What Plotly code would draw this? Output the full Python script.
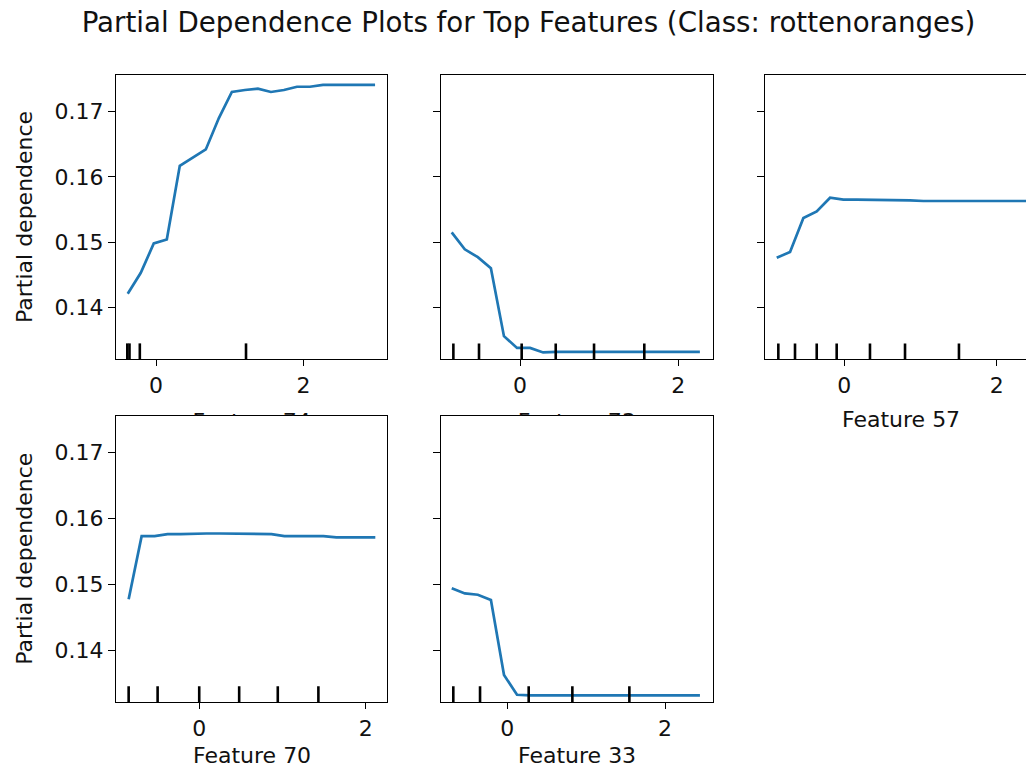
import plotly.graph_objects as go

# ---- partial dependence curves (grid values and averaged predictions) ----
f74_grid = [-0.384, -0.207, -0.031, 0.146, 0.322, 0.499, 0.675, 0.852, 1.028, 1.205,
            1.381, 1.558, 1.734, 1.911, 2.087, 2.264, 2.440, 2.617, 2.793, 2.970]
f74_pd = [0.1421, 0.1453, 0.1498, 0.1504, 0.1617, 0.1629, 0.1642, 0.1690, 0.1730, 0.1733,
          0.1735, 0.1730, 0.1733, 0.1738, 0.1738, 0.1741, 0.1741, 0.1741, 0.1741, 0.1741]
f74_deciles = [-0.39, -0.36, -0.22, 1.22]

f73_grid = [-0.863, -0.698, -0.533, -0.368, -0.203, -0.038, 0.127, 0.292, 0.457, 0.622,
            0.787, 0.952, 1.117, 1.282, 1.447, 1.612, 1.777, 1.942, 2.107, 2.272]
f73_pd = [0.1515, 0.1489, 0.1477, 0.1460, 0.1356, 0.1338, 0.1338, 0.1331, 0.1332, 0.1332,
          0.1332, 0.1332, 0.1332, 0.1332, 0.1332, 0.1332, 0.1332, 0.1332, 0.1332, 0.1332]
f73_deciles = [-0.842, -0.518, 0.021, 0.451, 0.935, 1.57]

f57_grid = [-0.887, -0.712, -0.537, -0.362, -0.187, -0.012, 0.163, 0.338, 0.513, 0.688,
            0.863, 1.038, 1.213, 1.388, 1.563, 1.738, 1.913, 2.088, 2.263, 2.438]
f57_pd = [0.1476, 0.1485, 0.1537, 0.1547, 0.1568, 0.1565, 0.1565, 0.1565, 0.1565, 0.1564,
          0.1564, 0.1563, 0.1563, 0.1563, 0.1563, 0.1563, 0.1563, 0.1563, 0.1563, 0.1563]
f57_deciles = [-0.866, -0.647, -0.362, -0.1, 0.337, 0.797, 1.505]

f70_grid = [-0.848, -0.692, -0.536, -0.380, -0.224, -0.068, 0.088, 0.244, 0.400, 0.556,
            0.712, 0.868, 1.024, 1.180, 1.336, 1.492, 1.648, 1.804, 1.960, 2.116]
f70_pd = [0.1477, 0.1573, 0.1573, 0.1576, 0.1576, 0.1577, 0.1577, 0.1577, 0.1577, 0.1577,
          0.1577, 0.1576, 0.1573, 0.1573, 0.1573, 0.1573, 0.1571, 0.1571, 0.1571, 0.1571]
f70_deciles = [-0.848, -0.5, 0.0, 0.48, 0.944, 1.432]

f33_grid = [-0.705, -0.539, -0.374, -0.208, -0.042, 0.123, 0.289, 0.455, 0.621, 0.786,
            0.952, 1.118, 1.283, 1.449, 1.615, 1.780, 1.946, 2.112, 2.277, 2.443]
f33_pd = [0.1494, 0.1486, 0.1484, 0.1476, 0.1362, 0.1332, 0.1331, 0.1331, 0.1331, 0.1331,
          0.1331, 0.1331, 0.1331, 0.1331, 0.1331, 0.1331, 0.1331, 0.1331, 0.1331, 0.1331]
f33_deciles = [-0.685, -0.346, 0.271, 0.825, 1.548]

feature_names = ["Feature 74", "Feature 73", "Feature 57", "Feature 70", "Feature 33"]
y_tick_vals = [0.14, 0.15, 0.16, 0.17]
y_tick_text = ["0.14", "0.15", "0.16", "0.17"]
x_tick_vals = [0, 2]
x_tick_text = ["0", "2"]
title_text = "Partial Dependence Plots for Top Features (Class: rottenoranges)"

curves = [
    (f74_grid, f74_pd, f74_deciles),
    (f73_grid, f73_pd, f73_deciles),
    (f57_grid, f57_pd, f57_deciles),
    (f70_grid, f70_pd, f70_deciles),
    (f33_grid, f33_pd, f33_deciles),
]

# ---- page geometry (pixels) ----
W, H = 1026, 770
FONT = "DejaVu Sans"
INK = "#111111"
BLUE = "#1f77b4"
FS = 22


def px_x(v):
    return v / W


def px_y(v):
    return 1 - v / H


def ax_id(n):
    return "" if n == 1 else str(n)


col_px = [(116.0, 387.3), (440.7, 712.7), (765.3, 1026.0)]
row_px = [(75.0, 359.0), (415.7, 702.0)]
label_gap = [60, 53]          # distance from panel bottom to x-label centre, per row
x_ranges = [[-0.543, 3.136], [-1.002, 2.434], [-1.037, 2.385],
            [-1.0, 2.26], [-0.845, 2.605]]
y_range = [0.1321, 0.1756]
slots = [(0, 0), (0, 1), (0, 2), (1, 0), (1, 1)]

fig = go.Figure()
layout = {}
shapes = []
annotations = []

for i, ((grid, pd_vals, dec), (r, c)) in enumerate(zip(curves, slots)):
    n = i + 1
    s = ax_id(n)
    xa, ya = f"x{s}", f"y{s}"
    fig.add_trace(go.Scatter(x=grid, y=pd_vals, mode="lines", xaxis=xa, yaxis=ya,
                             line=dict(color=BLUE, width=2.7), hoverinfo="skip"))
    x0, x1 = col_px[c]
    y0, y1 = row_px[r]
    layout[f"xaxis{s}"] = dict(
        domain=[px_x(x0), px_x(x1)], range=x_ranges[i], anchor=ya,
        showgrid=False, zeroline=False, showline=True, linecolor="black",
        linewidth=1.3, mirror=True, ticks="outside", ticklen=6, tickwidth=1.3,
        tickcolor="black", tickvals=x_tick_vals, ticktext=x_tick_text,
        tickfont=dict(family=FONT, size=FS, color=INK),
    )
    layout[f"yaxis{s}"] = dict(
        domain=[px_y(y1), px_y(y0)], range=y_range, anchor=xa,
        showgrid=False, zeroline=False, showline=True, linecolor="black",
        linewidth=1.3, mirror=(c != 2), ticks="outside", ticklen=7, tickwidth=1.3,
        tickcolor="black", tickvals=y_tick_vals, ticktext=y_tick_text,
        showticklabels=(c == 0),
        tickfont=dict(family=FONT, size=FS, color=INK),
    )
    # decile rug along the bottom of each panel
    for d in dec:
        shapes.append(dict(type="line", xref=xa, yref=f"{ya} domain",
                           x0=d, x1=d, y0=0, y1=0.055,
                           line=dict(color="black", width=2.6)))
    # axis labels
    if r == 1 or c == 2:
        annotations.append(dict(text=feature_names[i], xref="paper", yref="paper",
                                x=px_x((x0 + x1) / 2) if c != 2 else px_x(x0 + 135.8),
                                y=px_y(y1 + label_gap[r]), xanchor="center",
                                yanchor="middle", showarrow=False,
                                font=dict(family=FONT, size=FS, color=INK)))
    if c == 0:
        annotations.append(dict(text="Partial dependence", xref="paper", yref="paper",
                                x=px_x(25), y=px_y((y0 + y1) / 2), textangle=-90,
                                xanchor="center", yanchor="middle", showarrow=False,
                                font=dict(family=FONT, size=FS, color=INK)))

# labels of the top-row panels that sit under the lower panels (clipped strip)
for k, c in enumerate([0, 1]):
    n = 6 + k
    x0, x1 = col_px[c]
    fig.add_trace(go.Scatter(x=[0.5], y=[0], mode="text", text=[feature_names[c]],
                             textposition="middle center", cliponaxis=True,
                             xaxis=f"x{n}", yaxis=f"y{n}", hoverinfo="skip",
                             textfont=dict(family=FONT, size=FS, color=INK)))
    layout[f"xaxis{n}"] = dict(domain=[px_x(x0), px_x(x1)], range=[0, 1],
                               anchor=f"y{n}", visible=False)
    layout[f"yaxis{n}"] = dict(domain=[px_y(row_px[1][0]), px_y(row_px[0][1])],
                               range=[0.114, 1], anchor=f"x{n}", visible=False)

fig.update_layout(
    width=W, height=H, margin=dict(l=0, r=0, t=0, b=0),
    paper_bgcolor="white", plot_bgcolor="white", showlegend=False,
    title=dict(text=title_text, x=528.5 / W, xanchor="center",
               y=px_y(22), yanchor="middle", yref="paper",
               font=dict(family=FONT, size=27.7, color=INK)),
    shapes=shapes, annotations=annotations, **layout,
)

fig.write_html("out.html")
